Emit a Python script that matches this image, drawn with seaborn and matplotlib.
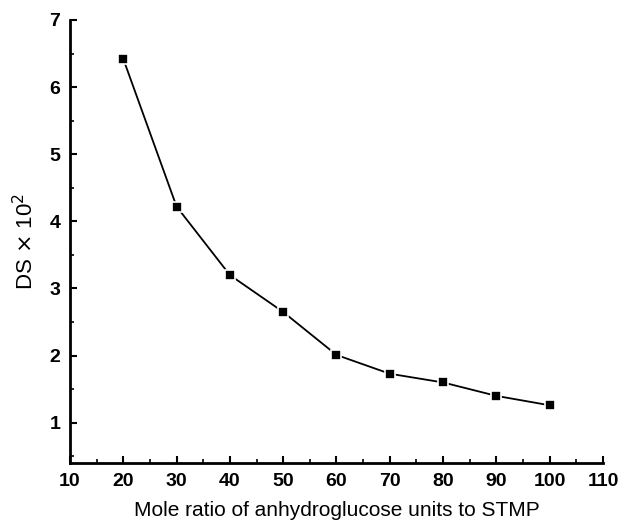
import numpy as np
import pandas as pd
import matplotlib
matplotlib.use("Agg")
import matplotlib.pyplot as plt
import seaborn as sns
from matplotlib.ticker import MultipleLocator

# data
mole_ratio = [20, 30, 40, 50, 60, 70, 80, 90, 100]
ds_x100 = [6.42, 4.22, 3.20, 2.65, 2.01, 1.73, 1.60, 1.40, 1.26]

df = pd.DataFrame({"ratio": mole_ratio, "ds": ds_x100})

sns.set_style("ticks")
plt.rcParams['font.family'] = ['Liberation Sans', 'DejaVu Sans']
plt.rcParams['text.color'] = 'black'
plt.rcParams['axes.labelcolor'] = 'black'
plt.rcParams['xtick.color'] = 'black'
plt.rcParams['ytick.color'] = 'black'

fig = plt.figure(figsize=(6.21, 5.23), dpi=100)
ax = fig.add_axes([0.1127, 0.1147, 0.8583, 0.8471])

sns.lineplot(data=df, x="ratio", y="ds", ax=ax, color="black", lw=1.3,
             marker="s", markersize=7, markerfacecolor="black",
             markeredgecolor="white", markeredgewidth=1.2)

ax.set_xlim(10, 110)
ax.set_ylim(0.4, 7)
ax.xaxis.set_major_locator(MultipleLocator(10))
ax.xaxis.set_minor_locator(MultipleLocator(5))
ax.yaxis.set_major_locator(MultipleLocator(1))
ax.yaxis.set_minor_locator(MultipleLocator(0.5))
ax.set_yticks([1, 2, 3, 4, 5, 6, 7])

ax.tick_params(which="major", direction="in", length=5, width=1.5,
               labelsize=14, pad=7)
ax.tick_params(which="minor", direction="in", length=3, width=1.2)
for lab in ax.get_xticklabels() + ax.get_yticklabels():
    lab.set_fontweight("bold")

for s in ["left", "bottom"]:
    ax.spines[s].set_linewidth(2)
    ax.spines[s].set_color("black")
sns.despine(ax=ax)

ax.set_xlabel("Mole ratio of anhydroglucose units to STMP", fontsize=15, labelpad=8)
ax.set_ylabel(r"DS $\times$ 10$^2$", fontsize=16, labelpad=8)

fig.savefig("out.png", dpi=100)
